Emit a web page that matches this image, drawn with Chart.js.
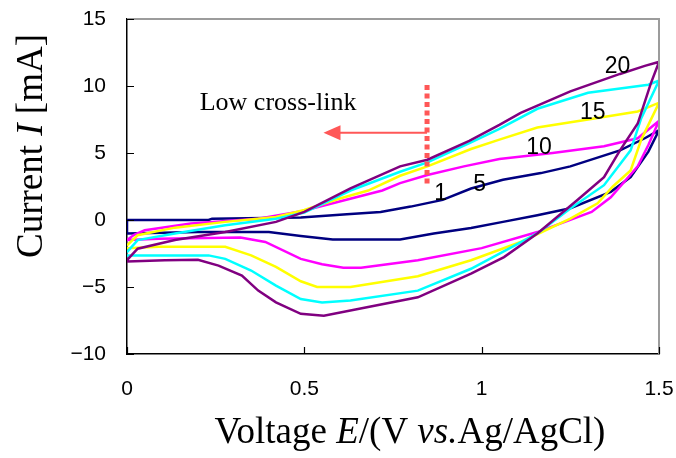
<!DOCTYPE html>
<html><head><meta charset="utf-8">
<script src="https://cdn.jsdelivr.net/npm/chart.js@4.4.0/dist/chart.umd.min.js"></script>
<style>html,body{margin:0;padding:0;background:#fff}#wrap{width:676px;height:458px;position:relative}</style>
</head><body><div id="wrap"><canvas id="c"></canvas></div>
<script>
// ---- data (E in V vs Ag/AgCl, I in mA); each loop: forward scan then reverse scan ----
const navyE = [0, 0.23, 0.24, 0.49, 0.62, 0.715, 0.80, 0.89, 0.97, 1.06, 1.167, 1.25, 1.39, 1.46, 1.5, 1.47, 1.42, 1.364, 1.25, 1.157, 1.06, 0.97, 0.865, 0.77, 0.58, 0.49, 0.40, 0.2, 0.0, 0];
const navyI = [0, 0, 0.1, 0.19, 0.43, 0.6, 1.0, 1.5, 2.35, 3.0, 3.5, 4.0, 5.2, 6.1, 6.7, 5.1, 3.2, 2.1, 0.88, 0.36, -0.14, -0.6, -1.0, -1.45, -1.45, -1.2, -0.9, -0.9, -1.0, 0];

const magentaE = [0, 0.02, 0.05, 0.18, 0.37, 0.5, 0.58, 0.72, 0.77, 0.847, 0.95, 1.05, 1.2, 1.345, 1.44, 1.5, 1.47, 1.44, 1.364, 1.31, 1.157, 1.0, 0.82, 0.66, 0.61, 0.55, 0.49, 0.39, 0.32, 0.09, 0];
const magentaI = [-1.5, -1.1, -0.77, -0.27, 0.1, 0.7, 1.25, 2.2, 2.75, 3.36, 4.0, 4.55, 5.0, 5.5, 6.1, 7.4, 5.6, 4.0, 1.7, 0.6, -0.9, -2.1, -3.0, -3.57, -3.57, -3.3, -2.9, -1.64, -1.3, -1.4, -1.5];

const yellowE = [0, 0.03, 0.135, 0.277, 0.42, 0.5, 0.6, 0.68, 0.77, 0.847, 0.97, 1.05, 1.157, 1.3, 1.44, 1.5, 1.45, 1.42, 1.37, 1.327, 1.25, 1.11, 0.97, 0.82, 0.63, 0.536, 0.49, 0.42, 0.35, 0.277, 0.09, 0];
const yellowI = [-1.9, -1.14, -0.57, -0.14, 0.23, 0.75, 1.6, 2.2, 3.3, 4.0, 5.3, 6.0, 6.9, 7.5, 8.1, 8.75, 6.0, 3.7, 2.5, 1.24, 0.1, -1.64, -3.0, -4.2, -5.0, -5.0, -4.57, -3.5, -2.64, -2.0, -2.0, -2.1];

const cyanE = [0, 0.03, 0.135, 0.277, 0.42, 0.5, 0.63, 0.77, 0.847, 0.97, 1.05, 1.157, 1.3, 1.47, 1.5, 1.45, 1.42, 1.345, 1.25, 1.157, 0.97, 0.82, 0.63, 0.55, 0.49, 0.42, 0.35, 0.277, 0.23, 0];
const cyanI = [-2.4, -1.5, -1.0, -0.4, 0.1, 0.55, 2.2, 3.6, 4.3, 5.8, 6.8, 8.3, 9.5, 10.1, 10.4, 7.6, 5.2, 2.6, 0.86, -1.0, -3.64, -5.27, -6.0, -6.15, -5.9, -4.9, -3.77, -2.9, -2.64, -2.64];

const purpleE = [0, 0.03, 0.135, 0.277, 0.42, 0.5, 0.63, 0.77, 0.847, 0.965, 1.05, 1.11, 1.25, 1.39, 1.46, 1.5, 1.477, 1.44, 1.39, 1.345, 1.27, 1.157, 1.063, 0.97, 0.82, 0.68, 0.555, 0.49, 0.42, 0.37, 0.324, 0.258, 0.2, 0.107, 0];
const purpleI = [-3.0, -2.14, -1.5, -0.9, -0.14, 0.6, 2.36, 4.0, 4.5, 5.9, 7.1, 8.0, 9.6, 10.9, 11.5, 11.8, 10.2, 7.2, 5.2, 3.2, 1.49, -1.0, -2.77, -4.0, -5.77, -6.5, -7.15, -7.0, -6.15, -5.27, -4.14, -3.4, -2.97, -3.0, -3.1];

// curve labels (text and their data positions)
const curveLabels = ['1', '5', '10', '15', '20'];
const curveLabelE = [0.884, 0.994, 1.162, 1.313, 1.383];
const curveLabelI = [1.94, 2.65, 5.41, 8.02, 11.46];

// axis ticks
const xTicks = [0, 0.5, 1, 1.5];
const yTicks = [-10, -5, 0, 5, 10, 15];

// annotation: dotted marker and arrow
const markerE = [0.846, 0.846];
const markerI = [10.07, 2.49];
const arrowE = [0.846, 0.57];
const arrowI = [6.51, 6.51];
const arrowTipE = 0.554;
const noteText = 'Low cross-link';
const noteE = 0.205;
const noteI = 8.2;

const toPts = (E, I) => E.map((e, i) => ({x: e, y: I[i]}));

const RED = '#ff5757';

function drawRich(ctx, parts, cx, cy) {
  let total = 0;
  parts.forEach(p => { ctx.font = p[1]; total += ctx.measureText(p[0]).width; });
  let x = cx - total / 2;
  ctx.textAlign = 'left';
  ctx.textBaseline = 'alphabetic';
  parts.forEach(p => { ctx.font = p[1]; ctx.fillText(p[0], x, cy); x += ctx.measureText(p[0]).width; });
}

const deco = {
  id: 'deco',
  afterDatasetsDraw(chart) {
    const {ctx, chartArea: a} = chart;
    const xs = chart.scales.x, ys = chart.scales.y;
    ctx.save();
    // gray top/right frame
    ctx.strokeStyle = '#9c9c9c';
    ctx.lineWidth = 2;
    ctx.beginPath();
    ctx.moveTo(a.left, a.top); ctx.lineTo(a.right, a.top); ctx.lineTo(a.right, a.bottom);
    ctx.stroke();
    // inward tick marks
    ctx.strokeStyle = '#000';
    ctx.lineWidth = 1.2;
    ctx.beginPath();
    yTicks.forEach(v => { const py = Math.round(ys.getPixelForValue(v)) + 0.5; ctx.moveTo(a.left, py); ctx.lineTo(a.left + 7, py); });
    xTicks.forEach(v => { const px = Math.round(xs.getPixelForValue(v)) + 0.5; ctx.moveTo(px, a.bottom); ctx.lineTo(px, a.bottom - 7); });
    ctx.stroke();
    // arrow head
    const tx = xs.getPixelForValue(arrowTipE), ty = ys.getPixelForValue(arrowI[0]);
    ctx.fillStyle = RED;
    ctx.beginPath();
    ctx.moveTo(tx, ty); ctx.lineTo(tx + 17, ty - 7.5); ctx.lineTo(tx + 17, ty + 7.5); ctx.closePath();
    ctx.fill();
    // curve labels
    ctx.fillStyle = '#000';
    ctx.font = '23px "Liberation Sans", Arial, sans-serif';
    ctx.textAlign = 'center';
    ctx.textBaseline = 'middle';
    curveLabels.forEach((t, i) => ctx.fillText(t, xs.getPixelForValue(curveLabelE[i]), ys.getPixelForValue(curveLabelI[i])));
    // note text
    ctx.font = '26px "Liberation Serif", "Times New Roman", serif';
    ctx.textAlign = 'left';
    ctx.textBaseline = 'alphabetic';
    ctx.fillText(noteText, xs.getPixelForValue(noteE), ys.getPixelForValue(noteI));
    // axis titles
    const R = '37px "Liberation Serif", "Times New Roman", serif';
    const RI = 'italic 37px "Liberation Serif", "Times New Roman", serif';
    drawRich(ctx, [['Voltage ', R], ['E', RI], ['/(V ', R], ['vs.', RI], ['Ag/AgCl)', R]], 410, 443);
    ctx.translate(42, 146);
    ctx.rotate(-Math.PI / 2);
    drawRich(ctx, [['Current ', R], ['I', RI], [' [mA]', R]], 0, 0);
    ctx.restore();
  }
};

const line = (E, I, color, order) => ({
  data: toPts(E, I), borderColor: color, borderWidth: 2.5, pointRadius: 0,
  showLine: true, fill: false, tension: 0, order: order
});

new Chart(document.getElementById('c'), {
  type: 'scatter',
  data: {
    datasets: [
      line(navyE, navyI, '#000080', 5),
      line(magentaE, magentaI, '#ff00ff', 4),
      line(yellowE, yellowI, '#ffff00', 3),
      line(cyanE, cyanI, '#00ffff', 2),
      line(purpleE, purpleI, '#800080', 1),
      {data: toPts(markerE, markerI), borderColor: RED, borderWidth: 5, borderDash: [5, 3.5], borderCapStyle: 'butt', pointRadius: 0, showLine: true, order: 0},
      {data: toPts(arrowE, arrowI), borderColor: RED, borderWidth: 2, pointRadius: 0, showLine: true, order: 0}
    ]
  },
  options: {
    responsive: true, maintainAspectRatio: false, animation: false,
    layout: {padding: {left: 0, right: 17, top: 19, bottom: 0}},
    plugins: {legend: {display: false}, tooltip: {enabled: false}},
    scales: {
      x: {
        type: 'linear', min: 0, max: 1.5,
        afterBuildTicks: s => { s.ticks = xTicks.map(v => ({value: v})); },
        afterFit: s => { s.height = 104; s.paddingLeft = 0; s.paddingRight = 0; },
        grid: {display: false, drawTicks: false},
        border: {display: true, color: '#000', width: 1.5},
        ticks: {padding: 23, color: '#000', maxRotation: 0, autoSkip: false,
          font: {family: '"Liberation Sans", Arial, sans-serif', size: 21},
          callback: v => String(v)}
      },
      y: {
        type: 'linear', min: -10, max: 15,
        afterBuildTicks: s => { s.ticks = yTicks.map(v => ({value: v})); },
        afterFit: s => { s.width = 127; s.paddingTop = 0; s.paddingBottom = 0; },
        grid: {display: false, drawTicks: false},
        border: {display: true, color: '#000', width: 1.5},
        ticks: {padding: 21, color: '#000', autoSkip: false,
          font: {family: '"Liberation Sans", Arial, sans-serif', size: 21},
          callback: v => v < 0 ? '\u2212' + Math.abs(v) : String(v)}
      }
    }
  },
  plugins: [deco]
});
</script></body></html>
